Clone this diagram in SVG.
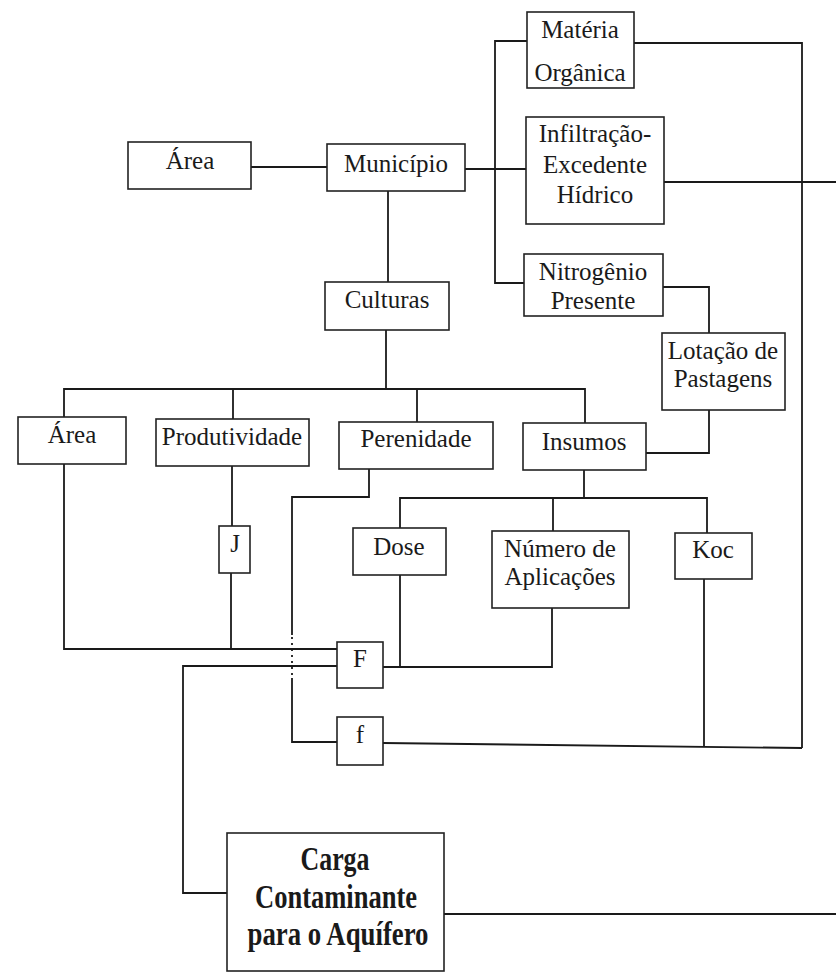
<svg xmlns="http://www.w3.org/2000/svg" width="836" height="974" viewBox="0 0 836 974">
<style>
.box{fill:#fff;stroke:#222;stroke-width:1.6}
.t{font-family:"Liberation Serif","Times New Roman",serif;font-size:25px;fill:#1a1a1a;text-anchor:middle}
.b{font-family:"Liberation Serif","Times New Roman",serif;font-size:33px;font-weight:bold;fill:#1a1a1a;text-anchor:middle}
.c{fill:none;stroke:#1a1a1a;stroke-width:1.8}
.d{fill:none;stroke:#1a1a1a;stroke-width:1.8;stroke-dasharray:2 4}
</style>
<rect width="836" height="974" fill="#fff"/>
<g id="connectors">
<path class="c" d="M251,167 H327"/>
<path class="c" d="M465,169 H526"/>
<path class="c" d="M527,41 H495 V283 H524"/>
<path class="c" d="M634,43 H802 V748"/>
<path class="c" d="M664,182 H836"/>
<path class="c" d="M663,287 H709 V333"/>
<path class="c" d="M709,410 V453 H646"/>
<path class="c" d="M388,191 V282"/>
<path class="c" d="M386,330 V389"/>
<path class="c" d="M64,417 V389 H585 V423"/>
<path class="c" d="M233,389 V419"/>
<path class="c" d="M417,389 V422"/>
<path class="c" d="M232,466 V526"/>
<path class="c" d="M64,464 V649 H337"/>
<path class="c" d="M231,573 V649"/>
<path class="c" d="M369,469 V497 H292 V635"/>
<path class="d" d="M292,637 V678"/>
<path class="c" d="M292,678 V742 H337"/>
<path class="c" d="M584,470 V498"/>
<path class="c" d="M400,528 V498 H707 V533"/>
<path class="c" d="M553,498 V531"/>
<path class="c" d="M400,575 V667"/>
<path class="c" d="M383,667 H552 V608"/>
<path class="c" d="M704,579 V747"/>
<path class="c" d="M383,743 L802,748"/>
<path class="c" d="M337,666 H183 V893 H227"/>
<path class="c" d="M444,914 H836"/>
</g>
<g id="area-top"><rect class="box" x="128" y="142" width="123" height="47"/><text class="t" x="190" y="169">Área</text></g>
<g id="municipio"><rect class="box" x="327" y="144" width="138" height="47"/><text class="t" x="396" y="172">Município</text></g>
<g id="materia"><rect class="box" x="527" y="12" width="107" height="76"/><text class="t" x="580" y="38">Matéria</text><text class="t" x="580" y="81">Orgânica</text></g>
<g id="infiltracao"><rect class="box" x="526" y="117" width="138" height="107"/><text class="t" x="595" y="142">Infiltração-</text><text class="t" x="595" y="173">Excedente</text><text class="t" x="595" y="203">Hídrico</text></g>
<g id="nitrogenio"><rect class="box" x="524" y="254" width="139" height="62"/><text class="t" x="593" y="280">Nitrogênio</text><text class="t" x="593" y="309">Presente</text></g>
<g id="lotacao"><rect class="box" x="662" y="333" width="123" height="77"/><text class="t" x="723" y="359">Lotação de</text><text class="t" x="723" y="387">Pastagens</text></g>
<g id="culturas"><rect class="box" x="325" y="282" width="124" height="48"/><text class="t" x="387" y="308">Culturas</text></g>
<g id="area"><rect class="box" x="18" y="417" width="108" height="47"/><text class="t" x="72" y="443">Área</text></g>
<g id="produtividade"><rect class="box" x="156" y="419" width="153" height="47"/><text class="t" x="232" y="445">Produtividade</text></g>
<g id="perenidade"><rect class="box" x="339" y="422" width="154" height="47"/><text class="t" x="416" y="447">Perenidade</text></g>
<g id="insumos"><rect class="box" x="523" y="423" width="123" height="47"/><text class="t" x="584" y="450">Insumos</text></g>
<g id="j"><rect class="box" x="219" y="526" width="31" height="47"/><text class="t" x="235" y="552">J</text></g>
<g id="dose"><rect class="box" x="353" y="528" width="93" height="47"/><text class="t" x="399" y="555">Dose</text></g>
<g id="numero"><rect class="box" x="492" y="531" width="137" height="77"/><text class="t" x="560" y="557">Número de</text><text class="t" x="560" y="585">Aplicações</text></g>
<g id="koc"><rect class="box" x="675" y="533" width="77" height="46"/><text class="t" x="713" y="558">Koc</text></g>
<g id="F"><rect class="box" x="337" y="642" width="46" height="46"/><text class="t" x="360" y="667">F</text></g>
<g id="f"><rect class="box" x="337" y="717" width="46" height="48"/><text class="t" x="360" y="743">f</text></g>
<g id="carga"><rect class="box" x="227" y="833" width="217" height="138"/>
<text class="b" x="335" y="870" textLength="69" lengthAdjust="spacingAndGlyphs">Carga</text>
<text class="b" x="336" y="908" textLength="162" lengthAdjust="spacingAndGlyphs">Contaminante</text>
<text class="b" x="338" y="945" textLength="181" lengthAdjust="spacingAndGlyphs">para o Aquífero</text></g>
</svg>
